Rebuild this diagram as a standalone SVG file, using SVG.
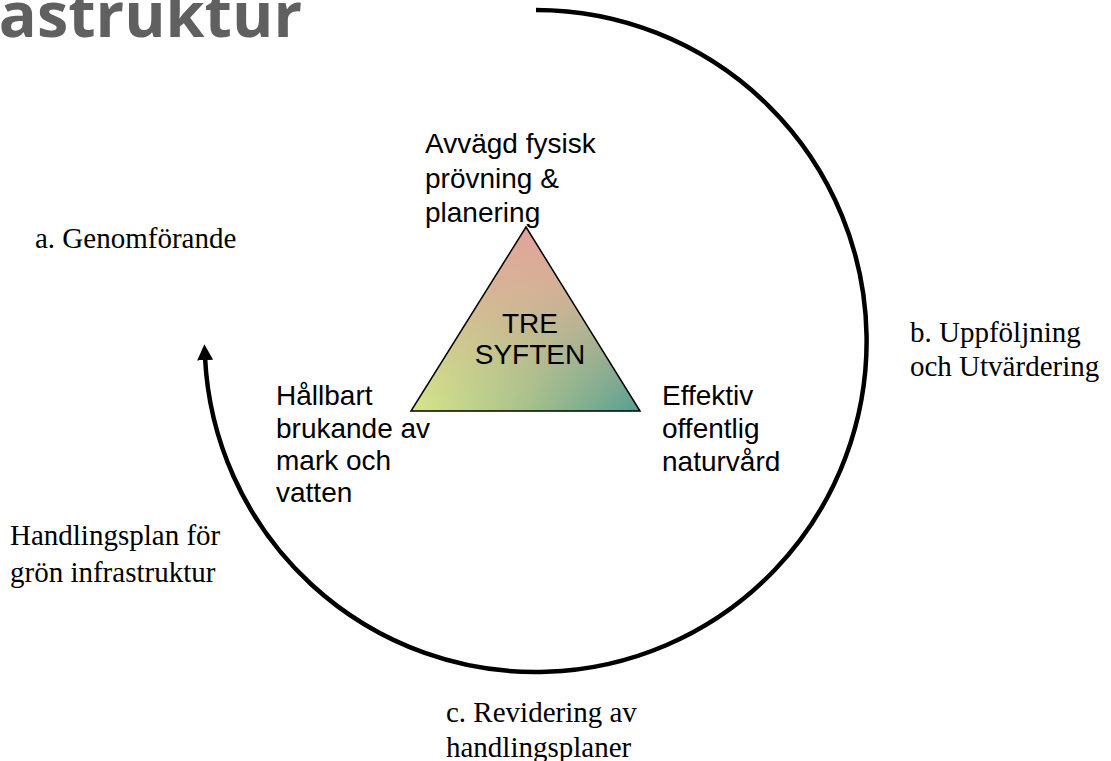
<svg xmlns="http://www.w3.org/2000/svg" width="1111" height="761" viewBox="0 0 1111 761">
<style>
.serif{font-family:"Liberation Serif","Times New Roman",serif;font-size:29px;fill:#000}
.sans{font-family:"Liberation Sans",Arial,sans-serif;font-size:28px;fill:#000}
.title{font-family:"Open Sans","Noto Sans",sans-serif;font-weight:bold;font-size:63px;fill:#606060}
.cycle{fill:none;stroke:#000;stroke-width:4.5}
</style>
<defs>
<marker id="arrow" viewBox="0 0 10 10" refX="2" refY="5" markerWidth="16" markerHeight="16" markerUnits="userSpaceOnUse" orient="auto">
<path d="M0,0 L10,5 L0,10 z" fill="#000"/>
</marker>
<linearGradient id="gBase" x1="0" y1="0" x2="1" y2="0">
<stop offset="0" stop-color="#d8e68a"/>
<stop offset="0.5" stop-color="#a7c28c"/>
<stop offset="1" stop-color="#579d93"/>
</linearGradient>
<linearGradient id="gTop" x1="0" y1="0" x2="0" y2="1">
<stop offset="0" stop-color="#e3a39b" stop-opacity="1"/>
<stop offset="0.35" stop-color="#ddb098" stop-opacity="0.85"/>
<stop offset="1" stop-color="#d8c090" stop-opacity="0"/>
</linearGradient>
</defs>
<text class="title" x="302" y="37" text-anchor="end">astruktur</text>
<g id="connectors">
<path class="cycle" d="M536,10 A331,331 0 1 1 205,357" marker-end="url(#arrow)"/>
</g>
<g id="triangle">
<polygon points="526,227 411,411 640,411" fill="url(#gBase)"/>
<polygon points="526,227 411,411 640,411" fill="url(#gTop)" stroke="#000" stroke-width="1.5"/>
<text class="sans" x="530" y="333" text-anchor="middle">TRE</text>
<text class="sans" x="530" y="364" text-anchor="middle">SYFTEN</text>
</g>
<g id="label-top"><text class="sans" x="425" y="153">Avvägd fysisk<tspan x="425" y="188">prövning &amp;</tspan><tspan x="425" y="222">planering</tspan></text></g>
<g id="label-left"><text class="sans" x="276" y="405">Hållbart<tspan x="276" y="438">brukande av</tspan><tspan x="276" y="470">mark och</tspan><tspan x="276" y="502">vatten</tspan></text></g>
<g id="label-right"><text class="sans" x="662" y="405">Effektiv<tspan x="662" y="438">offentlig</tspan><tspan x="662" y="471">naturvård</tspan></text></g>
<g id="stage-a"><text class="serif" x="35" y="248">a. Genomförande</text></g>
<g id="stage-b"><text class="serif" x="910" y="342">b. Uppföljning<tspan x="910" y="376">och Utvärdering</tspan></text></g>
<g id="stage-c"><text class="serif" x="446" y="722">c. Revidering av<tspan x="446" y="757">handlingsplaner</tspan></text></g>
<g id="plan"><text class="serif" x="10" y="545">Handlingsplan för<tspan x="10" y="582">grön infrastruktur</tspan></text></g>
</svg>
